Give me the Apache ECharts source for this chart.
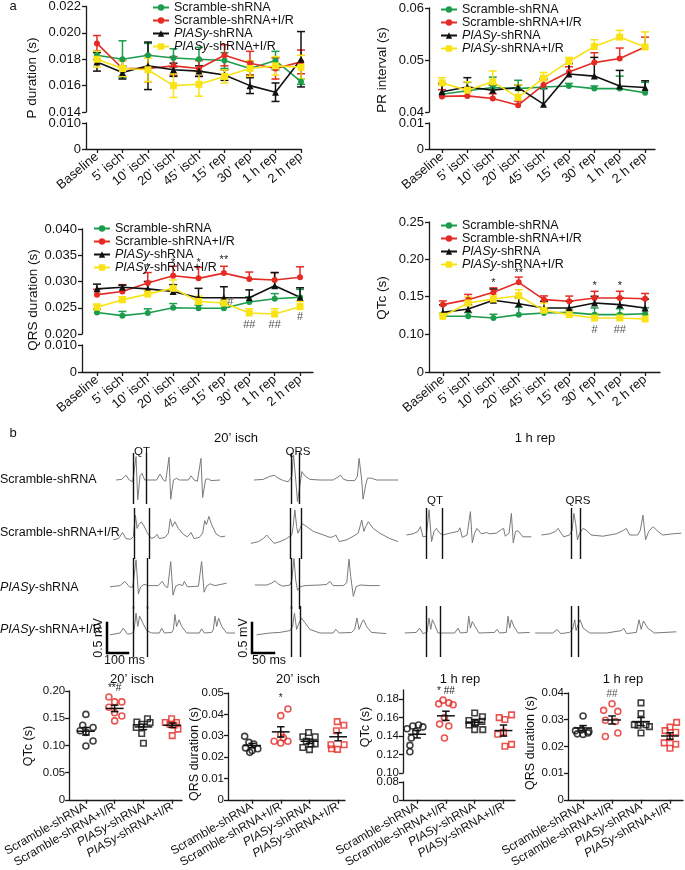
<!DOCTYPE html>
<html><head><meta charset="utf-8">
<script src="https://cdn.jsdelivr.net/npm/echarts@6/dist/echarts.min.js"></script>
<style>html,body{margin:0;padding:0;background:#fff}#c{width:685px;height:870px}</style>
</head><body><div id="c"></div>
<script>
// ---------------- DATA ----------------
const timeCats = ['Baseline','5\u2019 isch','10\u2019 isch','20\u2019 isch','45\u2019 isch','15\u2019 rep','30\u2019 rep','1 h rep','2 h rep'];
const groups = ['Scramble-shRNA','Scramble-shRNA+I/R','PIASy-shRNA','PIASy-shRNA+I/R'];

// P duration (s)
const pScr = [0.0183,0.0180,0.0183,0.0181,0.0180,0.0179,0.0173,0.0179,0.0163];
const pScrErr = [0.0003,0.0014,0.0009,0.0007,0.0009,0.0006,0.0005,0.0007,0.0002];
const pScrIR = [0.0192,0.0173,0.0173,0.0175,0.0173,0.0183,0.0177,0.0173,0.0178];
const pScrIRErr = [0.0006,0.0006,0.0010,0.0007,0.0006,0.0008,0.0009,0.0008,0.0009];
const pPia = [0.0178,0.0170,0.0175,0.0172,0.0171,0.0168,0.0160,0.0155,0.0180];
const pPiaErr = [0.0007,0.0005,0.0018,0.0005,0.0004,0.0004,0.0006,0.0007,0.0021];
const pPiaIR = [0.0180,0.0173,0.0172,0.0160,0.0161,0.0167,0.0173,0.0175,0.0174];
const pPiaIRErr = [0.0006,0.0006,0.0009,0.0009,0.0009,0.0005,0.0006,0.0007,0.0009];

// PR interval (s)
const prScr = [0.0434,0.0441,0.0447,0.0445,0.0448,0.0450,0.0445,0.0445,0.0437];
const prScrErr = [0.0020,0.0016,0.0020,0.0016,0.0017,0.0005,0.0005,0.0024,0.0020];
const prScrIR = [0.0430,0.0431,0.0426,0.0413,0.0452,0.0477,0.0495,0.0503,0.0525];
const prScrIRErr = [0.0013,0.0008,0.0009,0.0008,0.0010,0.0010,0.0019,0.0020,0.0019];
const prPia = [0.0439,0.0448,0.0442,0.0447,0.0415,0.0473,0.0469,0.0450,0.0447];
const prPiaErr = [0.0016,0.0018,0.0010,0.0005,0.0030,0.0020,0.0036,0.0030,0.0013];
const prPiaIR = [0.0456,0.0442,0.0458,0.0428,0.0465,0.0497,0.0526,0.0544,0.0525];
const prPiaIRErr = [0.0010,0.0016,0.0021,0.0024,0.0011,0.0008,0.0013,0.0013,0.0029];

// QRS duration (s)
const qrsScr = [0.0241,0.0235,0.0240,0.0250,0.0249,0.0249,0.0261,0.0267,0.0270];
const qrsScrErr = [0.0006,0.0008,0.0008,0.0008,0.0006,0.0008,0.0010,0.0010,0.0015];
const qrsScrIR = [0.0275,0.0281,0.0297,0.0311,0.0306,0.0316,0.0305,0.0303,0.0308];
const qrsScrIRErr = [0.0010,0.0013,0.0020,0.0018,0.0021,0.0013,0.0013,0.0014,0.0020];
const qrsPia = [0.0286,0.0289,0.0286,0.0281,0.0269,0.0269,0.0269,0.0292,0.0270];
const qrsPiaErr = [0.0009,0.0004,0.0014,0.0013,0.0018,0.0021,0.0015,0.0025,0.0018];
const qrsPiaIR = [0.0251,0.0265,0.0276,0.0287,0.0262,0.0259,0.0240,0.0238,0.0252];
const qrsPiaIRErr = [0.0006,0.0006,0.0008,0.0016,0.0010,0.0008,0.0008,0.0010,0.0010];
const qrsNotes = [[2,0.0326,'*'],[3,0.0335,'*'],[4,0.0335,'*'],[5,0.0341,'**'],[5.25,0.0261,'#'],[6,0.0217,'##'],[7,0.0217,'##'],[8,0.0232,'#']];

// QTc (s)
const qtcScr = [0.1237,0.1237,0.1214,0.1259,0.1281,0.1290,0.1259,0.1259,0.1272];
const qtcScrErr = [0.004,0.005,0.005,0.010,0.005,0.004,0.009,0.008,0.008];
const qtcScrIR = [0.1393,0.1460,0.1558,0.1692,0.1460,0.1438,0.1482,0.1482,0.1473];
const qtcScrIRErr = [0.005,0.007,0.006,0.007,0.005,0.007,0.009,0.009,0.007];
const qtcPia = [0.1290,0.1335,0.1451,0.1406,0.1348,0.1348,0.1415,0.1393,0.1348];
const qtcPiaErr = [0.010,0.006,0.015,0.008,0.009,0.009,0.009,0.009,0.012];
const qtcPiaIR = [0.1237,0.1415,0.1469,0.1513,0.1317,0.1259,0.1214,0.1214,0.1201];
const qtcPiaIRErr = [0.004,0.008,0.006,0.008,0.010,0.006,0.006,0.006,0.006];
const qtcNotes = [[2,0.168,'*'],[3,0.182,'**'],[6,0.164,'*'],[7,0.164,'*'],[6,0.106,'#'],[7,0.106,'##']];

// ECG traces: [time (ms), amplitude (mV)]
const ecgScr20QT = [[29,0],[56,0.01],[76,0.08],[92,0],[108,-0.03],[124,0.39],[132,-0.33],[143,0.07],[152,0.11],[165,0],[222,0],[238,0.10],[254,0],[265,-0.02],[281,0.38],[289,-0.32],[302,0],[317,0.03],[330,0],[373,0],[386,0.07],[400,0],[416,-0.02],[433,0.36],[441,-0.29],[455,0.01],[468,0.02],[481,-0.01],[524,0]];
const ecgScrIR20QT = [[16,-0.08],[40,-0.06],[60,0.04],[76,-0.06],[98,-0.07],[111,-0.03],[121,0.33],[129,0.11],[136,0.17],[149,0.22],[162,0.15],[178,0.03],[198,-0.06],[214,-0.03],[224,0.01],[235,-0.06],[262,-0.04],[278,0.03],[287,0.27],[297,0.14],[309,0.22],[325,0.11],[349,0.01],[368,-0.03],[386,0.04],[400,-0.06],[425,-0.04],[441,0.03],[451,0.24],[459,0.17],[471,0.31],[484,0.17],[505,0.02],[527,-0.03],[548,-0.02]];
const ecgPia20QT = [[0,-0.03],[48,-0.01],[71,0.06],[92,-0.03],[108,-0.04],[124,0.42],[135,-0.15],[146,-0.03],[162,0.01],[183,-0.01],[230,-0.01],[248,0.06],[265,-0.03],[275,-0.04],[289,0.39],[300,-0.17],[313,-0.02],[329,0.01],[346,-0.01],[354,0.06],[368,-0.03],[421,-0.02],[436,0.39],[448,-0.12],[460,-0.02],[476,0.02],[500,-0.01],[555,0.03]];
const ecgPiaIR20QT = [[0,-0.03],[48,0],[63,0.08],[83,-0.02],[103,-0.01],[114,0.03],[124,0.33],[132,0.11],[141,0.28],[156,0.17],[175,0.04],[198,0],[235,0],[246,0.08],[259,0],[294,0.01],[302,0.06],[309,0.31],[317,0.11],[329,0.22],[341,0.11],[365,0],[425,0],[436,0.07],[449,0],[484,0.01],[492,0.06],[500,0.28],[508,0.11],[517,0.25],[532,0.11],[555,0],[595,0]];
const ecgScr20QRS = [[9,0],[30,0.01],[45,0.06],[55,0.08],[64,0.03],[76,-0.01],[87,-0.03],[95,0.06],[99,0.42],[104,0],[108,-0.36],[114,-0.06],[118,0.14],[125,0.07],[136,0.01],[159,0],[189,0],[198,0.04],[206,0.08],[213,0.01],[223,-0.01],[238,-0.01],[244,0.06],[248,0.36],[254,0],[257,-0.32],[263,-0.08],[267,0.03],[276,0.03],[288,0],[310,0],[337,0]];
const ecgScrIR20QRS = [[2,-0.14],[19,-0.11],[30,-0.06],[38,0],[45,-0.06],[55,-0.14],[68,-0.11],[83,-0.06],[95,0],[98,0.14],[102,0.42],[106,0.14],[109,0.03],[114,0.11],[118,0.19],[129,0.14],[144,0.06],[167,0],[182,-0.04],[189,-0.03],[195,0],[203,-0.11],[220,-0.08],[235,-0.02],[246,0.03],[254,0.25],[259,0.06],[263,0.14],[269,0.22],[280,0.11],[295,0.03],[318,-0.06],[337,-0.11]];
const ecgPia20QRS = [[11,0],[38,0],[49,0.03],[57,0.07],[64,0.02],[74,-0.02],[91,0],[95,0.08],[100,0.44],[104,0.08],[108,-0.09],[114,-0.03],[125,-0.01],[159,0],[174,0.01],[182,0.06],[189,-0.01],[212,-0.01],[220,0.04],[225,0.43],[229,0.14],[235,-0.19],[241,-0.03],[250,0],[273,-0.01],[295,-0.01]];
const ecgPiaIR20QRS = [[15,-0.03],[45,0],[68,0.01],[91,0.04],[97,0.11],[101,0.33],[106,0.06],[110,0.14],[117,0.25],[125,0.17],[136,0.06],[159,0],[189,0],[195,0.06],[203,0],[231,0.01],[238,0.06],[243,0.25],[248,0.06],[254,0.17],[258,0.22],[265,0.11],[276,0.01],[310,-0.01]];
const ecgScrIR1hQT = [[16,0],[48,0.02],[71,0.06],[83,0.14],[95,-0.03],[111,-0.02],[124,0.42],[136,-0.11],[148,0.06],[159,0.11],[175,0.03],[190,0],[222,0.03],[262,0.06],[271,0.12],[282,-0.04],[305,0],[321,0.39],[330,-0.13],[341,0.03],[352,0.11],[373,0.02],[397,0.04],[413,0.02],[444,0.03],[468,0.09],[479,0.11],[487,-0.02],[505,0.03],[516,0.36],[525,-0.13],[536,0.06],[548,0.07],[571,-0.03],[611,-0.03]];
const ecgScrIR1hQRS = [[19,0],[38,0.02],[51,0.06],[57,0.11],[64,0.03],[70,-0.03],[83,0],[89,0.08],[93,0.36],[97,0.19],[101,-0.08],[106,0.03],[114,0.11],[123,0.07],[132,0],[159,-0.02],[189,0.02],[204,0.07],[212,0.11],[220,0],[238,0],[244,0.08],[250,0.33],[256,-0.08],[263,0.06],[273,0.14],[284,0.06],[295,0],[318,0.02],[337,0.03]];
const ecgPiaIR1hQT = [[8,0],[63,0.01],[79,0.08],[95,-0.01],[114,0.01],[124,0.25],[132,0.06],[140,0.22],[151,0.14],[167,0],[246,0],[262,0.08],[273,0],[305,0.01],[313,0.28],[321,0.08],[330,0.19],[343,0.11],[362,0],[436,0.01],[448,0.06],[460,0],[492,0.01],[500,0.28],[508,0.08],[516,0.22],[528,0.11],[548,0],[603,0.01]];
const ecgPiaIR1hQRS = [[5,0],[45,0],[55,0.06],[63,-0.01],[83,0.01],[90,0.06],[95,0.22],[98,0.04],[103,0.15],[107,0.22],[114,0.08],[129,0],[167,0],[201,0.04],[206,0.08],[213,-0.01],[235,0.01],[241,0.22],[246,0.06],[251,0.2],[261,0.08],[276,0],[326,0.02]];
// interval markers (ms)
const qtMarks20 = [[111,171],[116,186],[111,175],[111,179]];
const qrsMarks20 = [[93,112],[92,117],[93,112],[93,114]];
const qtMarks1h = [[111,186],[111,175]];
const qrsMarks1h = [[87,107],[87,104]];
const scaleBarSlow = [[0,0.5],[0,0],[100,0]];
const scaleBarFast = [[0,0.5],[0,0],[50,0]];

// Dot plots: [jitter, value]
const qtcIschScr = [[0,0.157],[-0.11,0.137],[-0.2,0.127],[0.25,0.133],[0.01,0.124],[0.25,0.108],[0,0.099]];
const qtcIschScrIR = [[-0.2,0.189],[0,0.180],[0.25,0.180],[-0.2,0.170],[0,0.160],[0.25,0.154],[0,0.145]];
const qtcIschPia = [[-0.23,0.143],[-0.06,0.139],[0.14,0.149],[0.23,0.142],[-0.25,0.133],[-0.06,0.122],[0,0.104]];
const qtcIschPiaIR = [[-0.24,0.142],[-0.02,0.149],[0.15,0.142],[-0.08,0.139],[0.2,0.130],[0,0.118],[0.06,0.137]];
const qtcIschMean = [0.126,0.168,0.134,0.137];
const qtcIschSem = [0.007,0.006,0.005,0.004];

const qrsIschScr = [[-0.26,0.0297],[-0.11,0.0269],[0.06,0.0261],[-0.23,0.0243],[0,0.0231],[0.2,0.0239],[-0.08,0.0222]];
const qrsIschScrIR = [[0.25,0.0425],[0,0.0394],[0,0.0307],[-0.23,0.0274],[0.25,0.0274],[0,0.0266],[0.09,0.0290]];
const qrsIschPia = [[-0.03,0.0315],[-0.23,0.0295],[0.2,0.0295],[-0.11,0.0274],[0.05,0.0261],[-0.23,0.0245],[0,0.0235],[0.2,0.0262]];
const qrsIschPiaIR = [[-0.03,0.0366],[0.2,0.0349],[-0.06,0.0323],[-0.25,0.0258],[0.21,0.0258],[-0.23,0.0239],[-0.02,0.0236]];
const qrsIschMean = [0.0254,0.0318,0.0274,0.0295];
const qrsIschSem = [0.0010,0.0024,0.0010,0.0019];

const qtcRepScr = [[-0.35,0.148],[-0.15,0.151],[0.05,0.152],[0.2,0.150],[-0.05,0.145],[-0.2,0.138],[-0.25,0.130],[-0.25,0.123]];
const qtcRepScrIR = [[-0.1,0.179],[-0.25,0.175],[0.1,0.176],[0.25,0.174],[-0.22,0.153],[0.1,0.151],[-0.05,0.160],[-0.05,0.138]];
const qtcRepPia = [[0,0.165],[0.27,0.161],[-0.2,0.157],[0.03,0.154],[0.25,0.156],[-0.2,0.152],[0.28,0.147],[0,0.147]];
const qtcRepPiaIR = [[-0.15,0.160],[0.05,0.158],[0.28,0.163],[0,0.144],[-0.2,0.142],[0.28,0.131],[0.05,0.129]];
const qtcRepMean = [0.142,0.162,0.155,0.146];
const qtcRepSem = [0.004,0.005,0.003,0.006];

const qrsRepScr = [[0,0.0314],[-0.26,0.0259],[0.2,0.0256],[-0.2,0.0247],[0,0.0245],[0.17,0.0250],[-0.05,0.0262]];
const qrsRepScrIR = [[0,0.0360],[-0.29,0.0335],[0.2,0.0331],[-0.23,0.0298],[0.12,0.0293],[0.2,0.0250],[-0.23,0.0237]];
const qrsRepPia = [[0,0.0363],[0,0.0323],[-0.23,0.0281],[0.17,0.0281],[0.29,0.0274],[0,0.0250],[-0.1,0.0279]];
const qrsRepPiaIR = [[0.23,0.0290],[0,0.0272],[-0.17,0.0259],[0.2,0.0253],[0,0.0233],[-0.2,0.0213],[0.2,0.0208],[0,0.0193]];
const qrsRepMean = [0.0269,0.0299,0.0293,0.0239];
const qrsRepSem = [0.0009,0.0015,0.0015,0.0012];

// ---------------- RENDER ----------------
const FONT = '"Liberation Sans", Arial, Helvetica, sans-serif';
const C_GREEN = '#1c9d4d', C_RED = '#e52b23', C_BLACK = '#111111', C_YELLOW = '#f9e316';
const AX = {color:'#1a1a1a', width:1.3};
const groupStyle = [
  {color:C_GREEN, symbol:'circle', size:6},
  {color:C_RED, symbol:'circle', size:6},
  {color:C_BLACK, symbol:'triangle', size:7},
  {color:C_YELLOW, symbol:'rect', size:7}
];
const option = {animation:false, backgroundColor:'#fff', grid:[], xAxis:[], yAxis:[], series:[], legend:[], graphic:{elements:[]}};
function addGrid(g, xa, ya){
  option.grid.push(Object.assign({containLabel:false}, g));
  const gi = option.grid.length - 1;
  xa.gridIndex = gi; ya.gridIndex = gi;
  option.xAxis.push(xa); option.yAxis.push(ya);
  return gi;
}
function fmtFn(dec){ return v => (Math.abs(v) < 1e-12 ? '0' : v.toFixed(dec)); }
function richName(n){ return n.indexOf('PIASy') === 0 ? '{i|PIASy}{n|' + n.slice(5) + '}' : '{n|' + n + '}'; }
function richStyles(fs, lh){
  const base = {fontSize:fs, fontFamily:FONT, color:'#111'};
  if (lh) base.lineHeight = lh;
  return {i:Object.assign({fontStyle:'italic'}, base), n:Object.assign({}, base)};
}
function yAxisDef(min, max, interval, dec, fs, hideMax, margin){
  return {type:'value', min:min, max:max, interval:interval,
    axisLine:{show:true, onZero:false, lineStyle:AX},
    axisTick:{show:true, length:4, lineStyle:AX},
    splitLine:{show:false},
    axisLabel:{fontSize:fs, color:'#111', fontFamily:FONT, margin:margin || 5, formatter:fmtFn(dec), showMaxLabel: hideMax ? false : null}};
}
function hiddenX(min, max){ return {type:'value', min:min, max:max, show:false, splitLine:{show:false}}; }
function text(x, y, t, o){
  o = o || {};
  const el = {type:'text', x:x, y:y, rotation:o.rot || 0, silent:true,
    style:{text:t, fontSize:o.fs || 12.5, fontFamily:FONT, fill:o.color || '#111',
      textAlign:o.align || 'center', textVerticalAlign:o.va || 'middle',
      align:o.align || 'center', verticalAlign:o.va || 'middle'}};
  if (o.rich) el.style.rich = o.rich;
  option.graphic.elements.push(el);
}
function errRender(color, capW){
  return function(params, api){
    const x = api.value(0), v = api.value(1), up = api.value(2), dn = api.value(3);
    const a = api.coord([x, v + up]), b = api.coord([x, v - dn]);
    const st = {stroke:color, lineWidth:1.5};
    const ch = [{type:'line', shape:{x1:a[0], y1:a[1], x2:b[0], y2:b[1]}, style:st}];
    if (up > 0) ch.push({type:'line', shape:{x1:a[0]-capW, y1:a[1], x2:a[0]+capW, y2:a[1]}, style:st});
    if (dn > 0) ch.push({type:'line', shape:{x1:b[0]-capW, y1:b[1], x2:b[0]+capW, y2:b[1]}, style:st});
    return {type:'group', children:ch};
  };
}
function notesSeries(gi, notes, fs){
  option.series.push({type:'custom', xAxisIndex:gi, yAxisIndex:gi, silent:true, z:10, clip:false,
    encode:{x:0, y:1},
    data:notes.map(n => [n[0], n[1]]),
    renderItem:function(params, api){
      const p = api.coord([api.value(0), api.value(1)]);
      const t = notes[params.dataIndex][2];
      return {type:'text', x:p[0], y:p[1], style:{text:t, fill: t.indexOf('#') >= 0 && t.indexOf('*') < 0 ? '#555' : '#222', fontSize:fs, fontFamily:FONT, textAlign:'center', textVerticalAlign:'middle', align:'center', verticalAlign:'middle'}};
    }});
}

function lineChart(c){
  const w = c.right - c.axisX;
  const iT = addGrid({left:c.axisX, top:c.top, width:w, height:c.mid - c.top}, hiddenX(c.xMin, c.xMax), yAxisDef(c.yT[0], c.yT[1], c.yT[2], c.yT[3], 13, false, 5));
  const ticks = timeCats.map((_, i) => i);
  const xLow = {type:'value', min:c.xMin, max:c.xMax, splitLine:{show:false},
    axisLine:{show:true, onZero:false, lineStyle:AX},
    axisTick:{show:true, customValues:ticks, length:4, lineStyle:AX},
    axisLabel:{customValues:ticks, rotate:40, fontSize:13, color:'#111', fontFamily:FONT, margin:6, formatter:v => timeCats[Math.round(v)]}};
  addGrid({left:c.axisX, top:c.lowTop, width:w, height:c.bottom - c.lowTop}, xLow, yAxisDef(c.yL[0], c.yL[1], c.yL[2], c.yL[3], 13, c.hideLowMax, 5));
  c.data.forEach((vals, k) => {
    const st = groupStyle[k];
    option.series.push({type:'custom', xAxisIndex:iT, yAxisIndex:iT, silent:true, z:2, clip:false, encode:{x:0, y:1},
      data:vals.map((v, i) => [i, v, c.err[k][i], c.both ? c.err[k][i] : 0]), renderItem:errRender(st.color, 4)});
    option.series.push({type:'line', name:groups[k], xAxisIndex:iT, yAxisIndex:iT, z:3, clip:false,
      data:vals.map((v, i) => [i, v]), symbol:st.symbol, symbolSize:st.size, showSymbol:true,
      itemStyle:{color:st.color}, lineStyle:{color:st.color, width:1.6}});
  });
  if (c.notes) notesSeries(iT, c.notes, 11);
  option.legend.push({left:c.legL, top:c.legT, orient:'vertical', itemGap:0, itemWidth:16, itemHeight:8, padding:0,
    data:groups, formatter:richName, selectedMode:false,
    textStyle:{fontSize:12.5, lineHeight:10, color:'#111', fontFamily:FONT, rich:richStyles(12.5, 10)}});
  text(c.nameX, c.nameY, c.name, {rot:Math.PI/2, fs:13.5});
}

function dotPlot(c){
  const w = c.right - c.axisX;
  const ticks = [0,1,2,3];
  const xLow = {type:'value', min:c.xMin, max:c.xMax, splitLine:{show:false},
    axisLine:{show:true, onZero:false, lineStyle:AX},
    axisTick:{show:true, customValues:ticks, length:4, lineStyle:AX},
    axisLabel:{customValues:ticks, rotate:30, margin:6, formatter:v => richName(groups[Math.round(v)]), rich:richStyles(12), fontSize:12, fontFamily:FONT, color:'#111'}};
  let iM;
  if (c.yL) {
    iM = addGrid({left:c.axisX, top:c.top, width:w, height:c.mid - c.top}, hiddenX(c.xMin, c.xMax), yAxisDef(c.yT[0], c.yT[1], c.yT[2], c.yT[3], 11.5, false, 4));
    addGrid({left:c.axisX, top:c.lowTop, width:w, height:c.bottom - c.lowTop}, xLow, yAxisDef(c.yL[0], c.yL[1], c.yL[2], c.yL[3], 11.5, false, 4));
  } else {
    iM = addGrid({left:c.axisX, top:c.top, width:w, height:c.bottom - c.top}, xLow, yAxisDef(c.yT[0], c.yT[1], c.yT[2], c.yT[3], 11.5, false, 4));
  }
  c.pts.forEach((arr, k) => {
    option.series.push({type:'scatter', xAxisIndex:iM, yAxisIndex:iM, silent:true, z:3,
      data:arr.map(p => [k + p[0], p[1]]), symbol: k < 2 ? 'circle' : 'rect', symbolSize: k < 2 ? 6 : 5.5,
      itemStyle:{color:'rgba(255,255,255,0)', borderColor: k % 2 ? C_RED : '#111', borderWidth:1.6}});
  });
  option.series.push({type:'custom', xAxisIndex:iM, yAxisIndex:iM, silent:true, z:4, clip:false, encode:{x:0, y:1},
    data:c.means.map((m, k) => [k, m, c.sems[k]]),
    renderItem:function(params, api){
      const x = api.value(0), m = api.value(1), s = api.value(2);
      const pm = api.coord([x, m]), pt = api.coord([x, m + s]), pb = api.coord([x, m - s]);
      const hw = api.size([0.31, 0])[0], cw = api.size([0.13, 0])[0];
      const st = {stroke:'#111', lineWidth:1.5};
      return {type:'group', children:[
        {type:'line', shape:{x1:pm[0]-hw, y1:pm[1], x2:pm[0]+hw, y2:pm[1]}, style:st},
        {type:'line', shape:{x1:pt[0], y1:pt[1], x2:pb[0], y2:pb[1]}, style:st},
        {type:'line', shape:{x1:pt[0]-cw, y1:pt[1], x2:pt[0]+cw, y2:pt[1]}, style:st},
        {type:'line', shape:{x1:pb[0]-cw, y1:pb[1], x2:pb[0]+cw, y2:pb[1]}, style:st}]};
    }});
  if (c.notes) notesSeries(iM, c.notes, 10);
  text(c.titleX, c.titleY, c.title, {fs:13});
  text(c.nameX, c.nameY, c.name, {rot:Math.PI/2, fs:12.5});
}

// ---- panel a ----
lineChart({axisX:86, right:301, top:6, mid:112, lowTop:123, bottom:149, xMin:-0.43, xMax:8,
  yT:[0.014,0.022,0.002,3], yL:[0,0.010,0.010,3], both:true,
  data:[pScr,pScrIR,pPia,pPiaIR], err:[pScrErr,pScrIRErr,pPiaErr,pPiaIRErr],
  legL:152, legT:1, name:'P duration (s)', nameX:32, nameY:78});
lineChart({axisX:429, right:655, top:8, mid:112, lowTop:123, bottom:149, xMin:-0.51, xMax:8.39,
  yT:[0.04,0.06,0.01,2], yL:[0,0.01,0.01,2],
  data:[prScr,prScrIR,prPia,prPiaIR], err:[prScrErr,prScrIRErr,prPiaErr,prPiaIRErr],
  legL:440, legT:3, name:'PR interval (s)', nameX:382, nameY:70});
lineChart({axisX:82, right:313, top:229, mid:334, lowTop:345, bottom:372, xMin:-0.59, xMax:8.51,
  yT:[0.020,0.040,0.005,3], yL:[0,0.010,0.010,3],
  data:[qrsScr,qrsScrIR,qrsPia,qrsPiaIR], err:[qrsScrErr,qrsScrIRErr,qrsPiaErr,qrsPiaIRErr], notes:qrsNotes,
  legL:93, legT:222, name:'QRS duration (s)', nameX:33, nameY:300});
lineChart({axisX:429, right:660, top:222, mid:334, lowTop:334, bottom:372, xMin:-0.55, xMax:8.59,
  yT:[0.10,0.25,0.05,2], yL:[0,0.10,0.10,2], hideLowMax:true,
  data:[qtcScr,qtcScrIR,qtcPia,qtcPiaIR], err:[qtcScrErr,qtcScrIRErr,qtcPiaErr,qtcPiaIRErr], notes:qtcNotes,
  legL:440, legT:219, name:'QTc (s)', nameX:382, nameY:298});

// ---- panel b: ECG traces ----
const cols = {L:{left:110, width:125, max:595}, M:{left:250, width:150, max:341}, RQ:{left:403, width:130, max:619}, RS:{left:533, width:150, max:341}};
const rowBase = [480, 535, 585, 633];
function trace(col, row, data, marks){
  const cc = cols[col];
  const gi = addGrid({left:cc.left, top:rowBase[row] - 27, width:cc.width, height:51},
    {type:'value', min:0, max:cc.max, show:false, splitLine:{show:false}},
    {type:'value', min:-0.4, max:0.45, show:false, splitLine:{show:false}});
  option.series.push({type:'line', xAxisIndex:gi, yAxisIndex:gi, data:data, showSymbol:false, silent:true, clip:false,
    lineStyle:{color:'#7a7a7a', width:1},
    markLine:{silent:true, symbol:['none','none'], label:{show:false}, lineStyle:{color:'#111', width:1.4, type:'solid'},
      data:marks.map(m => ({xAxis:m}))}});
}
trace('L', 0, ecgScr20QT, qtMarks20[0]);
trace('L', 1, ecgScrIR20QT, qtMarks20[1]);
trace('L', 2, ecgPia20QT, qtMarks20[2]);
trace('L', 3, ecgPiaIR20QT, qtMarks20[3]);
trace('M', 0, ecgScr20QRS, qrsMarks20[0]);
trace('M', 1, ecgScrIR20QRS, qrsMarks20[1]);
trace('M', 2, ecgPia20QRS, qrsMarks20[2]);
trace('M', 3, ecgPiaIR20QRS, qrsMarks20[3]);
trace('RQ', 1, ecgScrIR1hQT, qtMarks1h[0]);
trace('RQ', 3, ecgPiaIR1hQT, qtMarks1h[1]);
trace('RS', 1, ecgScrIR1hQRS, qrsMarks1h[0]);
trace('RS', 3, ecgPiaIR1hQRS, qrsMarks1h[1]);
function scaleBar(left, width, maxMs, data){
  const gi = addGrid({left:left, top:623, width:width, height:30},
    {type:'value', min:0, max:maxMs, show:false, splitLine:{show:false}},
    {type:'value', min:0, max:0.5, show:false, splitLine:{show:false}});
  option.series.push({type:'line', xAxisIndex:gi, yAxisIndex:gi, data:data, showSymbol:false, silent:true, clip:false,
    lineStyle:{color:'#000', width:2.5, cap:'square', join:'miter'}});
}
scaleBar(107, 21, 100, scaleBarSlow);
scaleBar(252, 22, 50, scaleBarFast);

// texts
text(13, 6, 'a', {fs:13});
text(13, 433, 'b', {fs:13});
text(236, 438, '20\u2019 isch', {fs:13});
text(535, 438, '1 h rep', {fs:13});
text(142, 452, 'QT', {fs:11.5});
text(298, 452, 'QRS', {fs:11.5});
text(435, 501, 'QT', {fs:11.5});
text(578, 501, 'QRS', {fs:11.5});
const rowRich = richStyles(12.5);
text(0, 480, richName(groups[0]), {fs:12.5, align:'left', rich:rowRich});
text(0, 533, richName(groups[1]), {fs:12.5, align:'left', rich:rowRich});
text(0, 588, richName(groups[2]), {fs:12.5, align:'left', rich:rowRich});
text(0, 630, richName(groups[3]), {fs:12.5, align:'left', rich:rowRich});
text(99, 638, '0.5 mV', {rot:Math.PI/2, fs:12.5});
text(244, 638, '0.5 mV', {rot:Math.PI/2, fs:12.5});
text(104, 661, '100 ms', {fs:12.5, align:'left'});
text(252, 661, '50 ms', {fs:12.5, align:'left'});

// ---- dot plots ----
dotPlot({axisX:68, right:182, top:691, bottom:802, xMin:-0.58, xMax:3.34, yT:[0,0.20,0.05,2],
  pts:[qtcIschScr,qtcIschScrIR,qtcIschPia,qtcIschPiaIR], means:qtcIschMean, sems:qtcIschSem,
  notes:[[1,0.205,'**#']], title:'20\u2019 isch', titleX:132, titleY:679, name:'QTc (s)', nameX:29, nameY:746});
dotPlot({axisX:228, right:345, top:693, bottom:802, xMin:-0.84, xMax:3.24, yT:[0,0.05,0.01,2],
  pts:[qrsIschScr,qrsIschScrIR,qrsIschPia,qrsIschPiaIR], means:qrsIschMean, sems:qrsIschSem,
  notes:[[1,0.0475,'*']], title:'20\u2019 isch', titleX:298, titleY:679, name:'QRS duration (s)', nameX:195, nameY:754});
dotPlot({axisX:403, right:515, top:690, mid:773, lowTop:782, bottom:802, xMin:-0.49, xMax:3.4,
  yT:[0.10,0.19,0.02,2], yL:[0,0.08,0.08,2],
  pts:[qtcRepScr,qtcRepScrIR,qtcRepPia,qtcRepPiaIR], means:qtcRepMean, sems:qtcRepSem,
  notes:[[1,0.189,'* ##']], title:'1 h rep', titleX:460, titleY:679, name:'QTc (s)', nameX:366, nameY:727});
dotPlot({axisX:568, right:683, top:693, bottom:803, xMin:-0.52, xMax:3.45, yT:[0,0.04,0.01,2],
  pts:[qrsRepScr,qrsRepScrIR,qrsRepPia,qrsRepPiaIR], means:qrsRepMean, sems:qrsRepSem,
  notes:[[1,0.0395,'##']], title:'1 h rep', titleX:623, titleY:679, name:'QRS duration (s)', nameX:531, nameY:743});

const chart = echarts.init(document.getElementById('c'), null, {renderer:'canvas', width:685, height:870});
chart.setOption(option);
</script></body></html>
